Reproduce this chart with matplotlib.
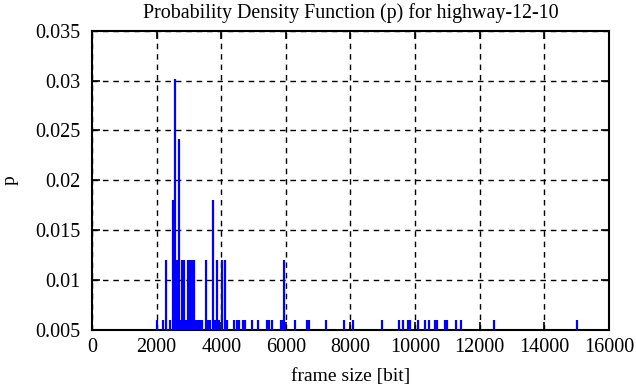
import numpy as np
import matplotlib
matplotlib.use("Agg")
import matplotlib.pyplot as plt

# frame sizes [bit] and how many frames fell on each (N total frames)
N = 166
sizes = [2010, 2196, 2289, 2413, 2505, 2577, 2638, 2700, 2741, 2793,
         2855, 2917, 2979, 3041, 3102, 3164, 3226, 3288, 3350, 3412,
         3535, 3597, 3659, 3752, 3814, 3876, 3937, 4031, 4124, 4175,
         4402, 4495, 4557, 4680, 4742, 4949, 5135, 5410, 5470, 5577,
         5855, 5886, 5948, 6288, 6660, 6720, 7247, 7804, 8083, 8980,
         9505, 9629, 9770, 9830, 10093, 10310, 10433, 10619, 10681, 10928,
         10990, 11268, 11423, 12444, 15000]
counts = [1, 1, 2, 1, 3, 5, 2, 4, 1, 2,
          2, 1, 2, 2, 2, 2, 1, 1, 1, 1,
          2, 1, 1, 3, 1, 2, 1, 2, 2, 1,
          1, 1, 1, 1, 1, 1, 1, 1, 1, 1,
          1, 1, 2, 1, 1, 1, 1, 1, 1, 1,
          1, 1, 1, 1, 1, 1, 1, 1, 1, 1,
          1, 1, 1, 1, 1]
p = np.array(counts) / N

xticks = list(range(0, 16001, 2000))
yticks = [0.005, 0.01, 0.015, 0.02, 0.025, 0.03, 0.035]
ytick_labels = ["0.005", "0.01", "0.015", "0.02", "0.025", "0.03", "0.035"]

plt.rcParams['font.family'] = ['Liberation Serif', 'DejaVu Serif']
plt.rcParams['font.size'] = 14

fig = plt.figure(figsize=(6.36, 3.87), dpi=100)
ax = fig.add_axes([0.1446, 0.1473, 0.8129, 0.7734])

ax.vlines(sizes, 0, p, color='#0000ff', linewidth=1.6, zorder=3)

ax.set_xlim(0, 16000)
ax.set_ylim(0.005, 0.035)
ax.set_xticks(xticks)
ax.set_yticks(yticks)
ax.set_yticklabels(ytick_labels)
ax.tick_params(direction='in', top=True, right=True, length=6, width=1.2,
               colors='black', labelsize=14.5)
ax.tick_params(axis='y', pad=8)
ax.tick_params(axis='x', pad=6)
ax.grid(True, color='black', linestyle=(0, (4, 3.5)), linewidth=1.0, zorder=1)
for s in ax.spines.values():
    s.set_linewidth(1.5)

ax.set_title("Probability Density Function (p) for highway-12-10", pad=9,
             fontsize=14.4)
ax.set_xlabel("frame size [bit]", labelpad=8, fontsize=14)
ax.set_ylabel("p", labelpad=12, fontsize=14)

fig.savefig("out.png", dpi=100)
